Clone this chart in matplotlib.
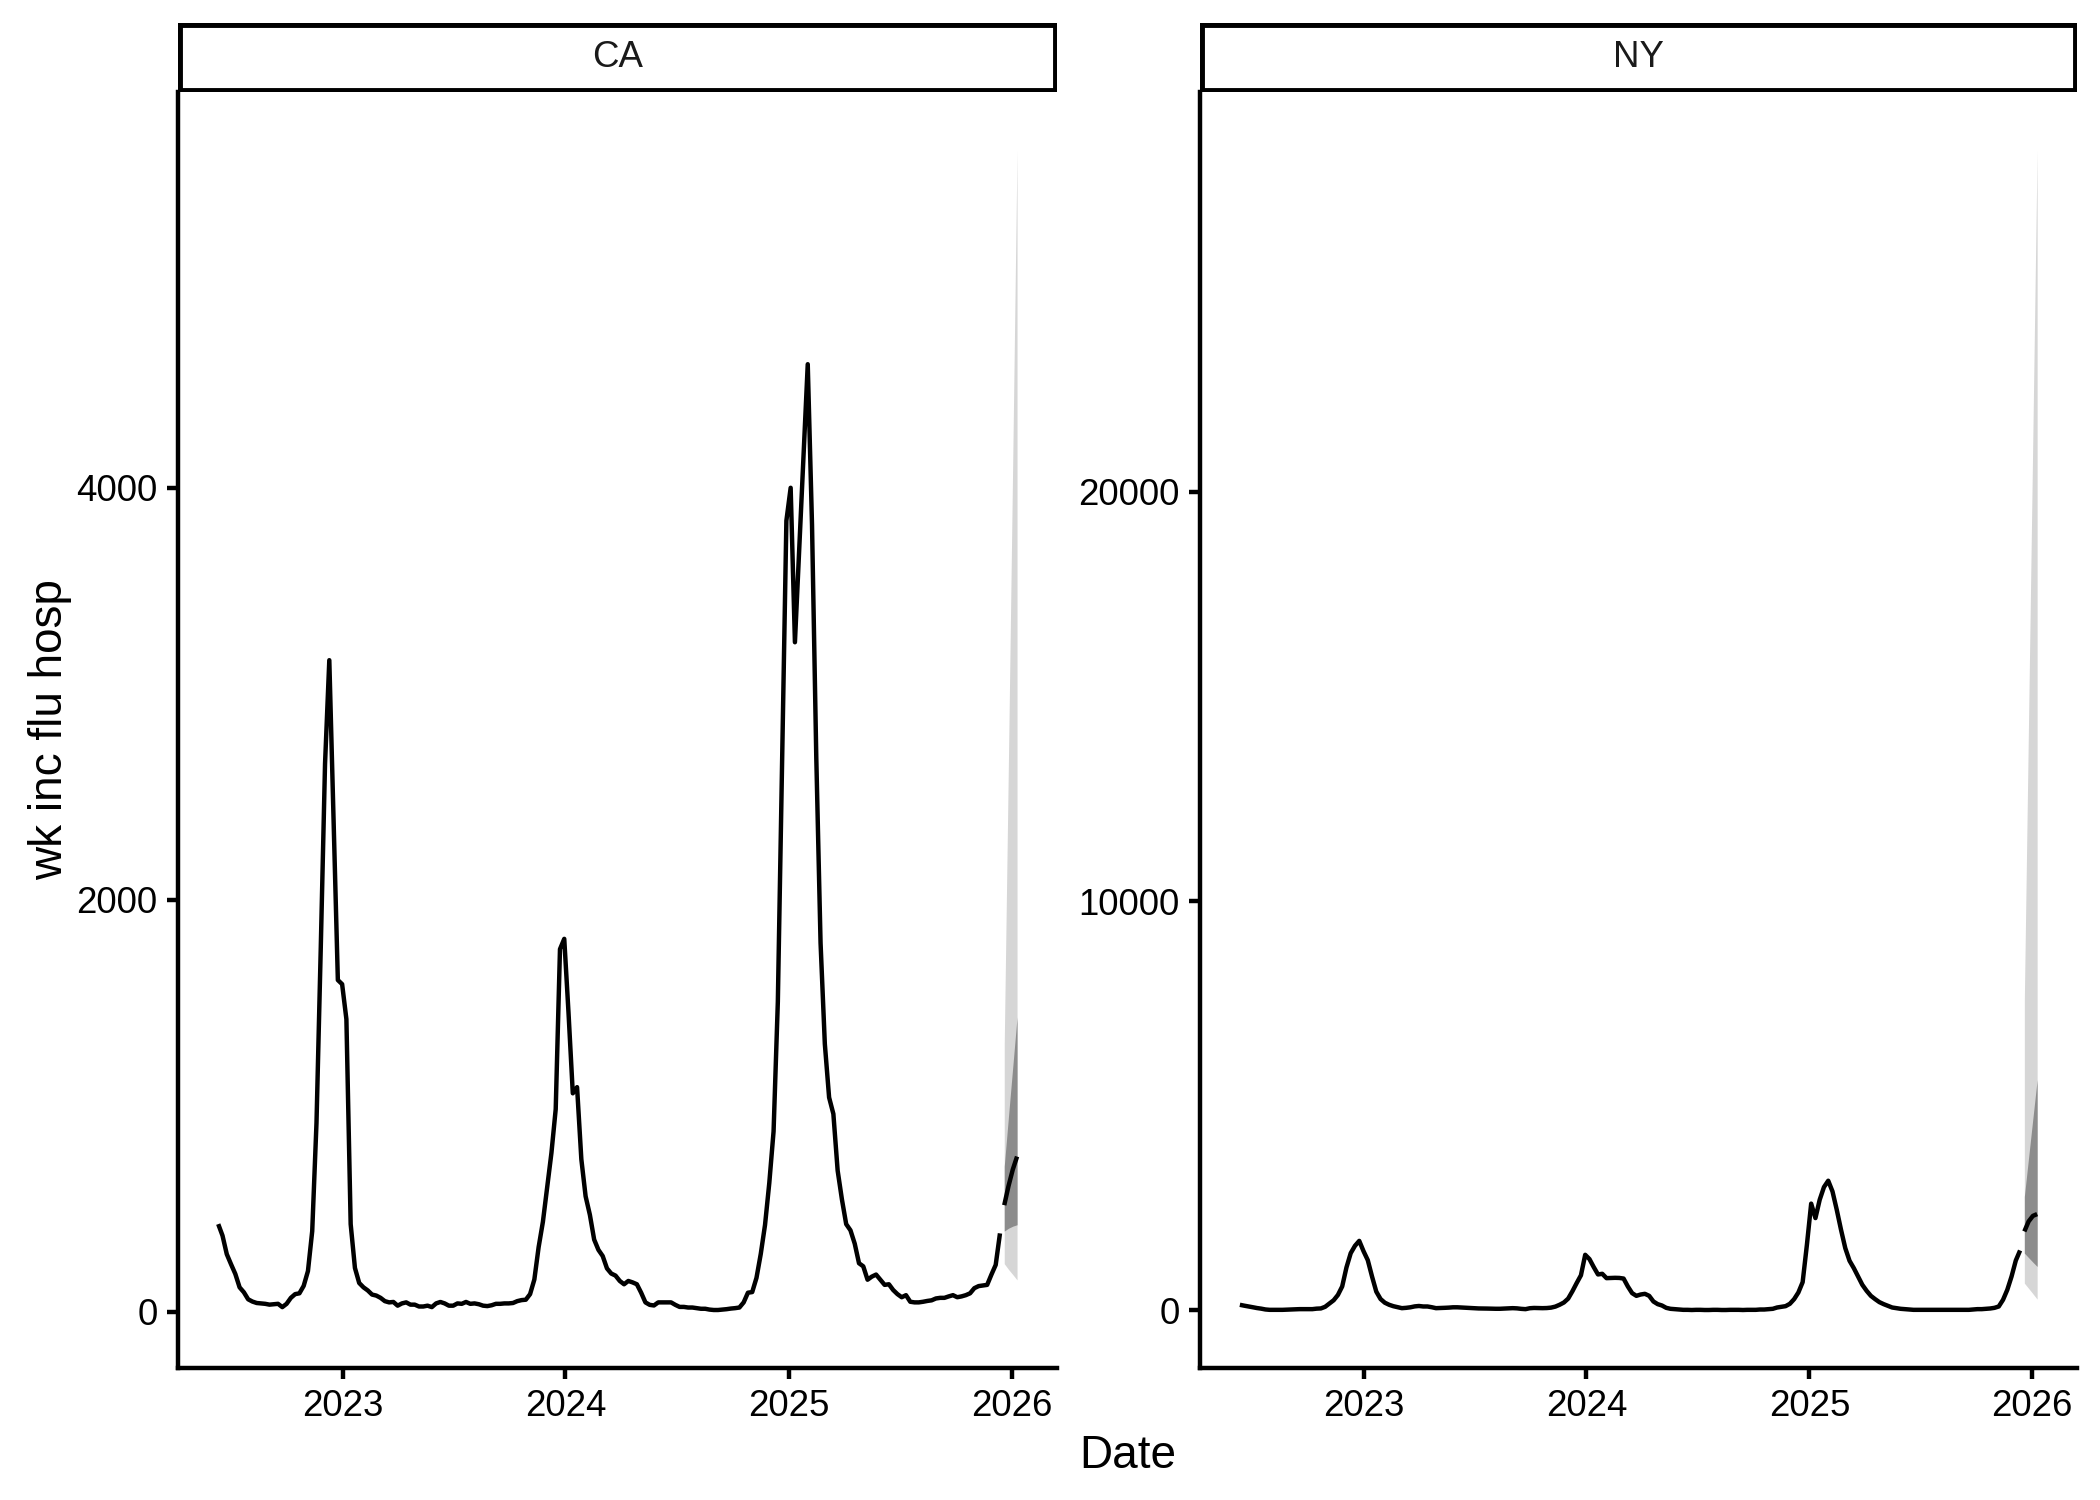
import numpy as np
import matplotlib
matplotlib.use("Agg")
import matplotlib.pyplot as plt
import matplotlib.dates as mdates
from matplotlib.patches import Rectangle

plt.rcParams['font.family'] = ['Liberation Sans', 'DejaVu Sans']

# ---------------- data ----------------
states = ["CA", "NY"]
obs_start = "2022-06-11"          # first weekly observation (weeks ending Saturday)
forecast_dates = ["2025-12-20", "2025-12-27", "2026-01-03", "2026-01-10"]

ca_obs = [
    425, 369, 279, 230, 183, 118, 94, 60, 49, 42,
    40, 38, 34, 36, 38, 22, 38, 67, 85, 89,
    125, 197, 391, 916, 1766, 2660, 3163, 2390, 1610, 1590,
    1420, 425, 212, 139, 118, 103, 83, 78, 67, 51,
    45, 47, 29, 40, 45, 34, 34, 25, 25, 29,
    22, 40, 47, 40, 29, 29, 40, 38, 47, 38,
    40, 36, 29, 27, 31, 38, 38, 40, 40, 42,
    51, 56, 58, 85, 156, 313, 436, 603, 771, 983,
    1760, 1810, 1450, 1060, 1090, 740, 560, 470, 350, 300,
    270, 210, 185, 175, 149, 133, 149, 142, 133, 92,
    45, 33, 30, 45, 45, 45, 45, 33, 23, 23,
    20, 20, 17, 14, 14, 10, 8, 8, 10, 12,
    15, 17, 20, 45, 92, 95, 164, 280, 421, 625,
    875, 1505, 2670, 3840, 4000, 3250, 3700, 4150, 4600, 3820,
    2690, 1790, 1300, 1040, 960, 685, 545, 425, 395, 330,
    235, 220, 155, 170, 180, 155, 130, 133, 105, 85,
    70, 80, 48, 45, 45, 48, 52, 55, 64, 67,
    67, 74, 80, 70, 74, 80, 89, 114, 124, 127,
    130, 180, 227, 380,
]

ny_obs = [
    139, 118, 100, 80, 60, 45, 25, 16, 16, 16,
    16, 20, 25, 30, 33, 33, 33, 33, 45, 50,
    90, 170, 250, 380, 587, 1050, 1400, 1580, 1700, 1450,
    1230, 830, 460, 280, 190, 140, 105, 80, 57, 65,
    78, 100, 110, 98, 98, 80, 57, 60, 65, 70,
    78, 78, 72, 65, 60, 55, 50, 49, 47, 44,
    42, 42, 46, 52, 57, 52, 40, 33, 55, 62,
    60, 57, 60, 70, 95, 140, 195, 290, 470, 670,
    860, 1360, 1255, 1060, 880, 896, 790, 795, 798, 795,
    780, 587, 424, 358, 390, 407, 358, 220, 155, 122,
    65, 41, 33, 24, 16, 16, 12, 16, 16, 12,
    12, 16, 16, 12, 12, 16, 16, 16, 12, 16,
    16, 16, 24, 24, 33, 41, 73, 90, 106, 163,
    277, 440, 692, 1605, 2610, 2257, 2705, 3014, 3169, 2908,
    2460, 1972, 1523, 1214, 1035, 831, 627, 481, 358, 277,
    204, 155, 114, 73, 57, 41, 33, 24, 16, 16,
    16, 16, 16, 16, 16, 16, 16, 16, 16, 16,
    16, 16, 24, 33, 33, 41, 49, 65, 98, 261,
    505, 831, 1222, 1466,
]

ca_median = [517, 610, 690, 753]
ca_q25 = [391, 405, 415, 422]
ca_q75 = [706, 950, 1190, 1431]
ca_q025 = [233, 205, 180, 154]
ca_q975 = [1300, 2700, 4150, 5640]

ny_median = [1931, 2175, 2310, 2355]
ny_q25 = [1401, 1290, 1180, 1075]
ny_q75 = [2786, 3740, 4690, 5638]
ny_q025 = [668, 540, 410, 277]
ny_q975 = [7600, 14500, 21400, 28343]

ca_yticks = [0, 2000, 4000]
ny_yticks = [0, 10000, 20000]
x_label = "Date"
y_label = "wk inc flu hosp"

# ---------------- layout ----------------
W, H = 2100, 1500
fig = plt.figure(figsize=(7, 5), dpi=300)
fig.patch.set_facecolor('white')

LW = 1.42 * 72 / 96          # ggplot linewidth 0.5 mm -> points
STRIP_LW = 2 * LW            # drawn centred on the edge and clipped -> half visible
panel_top, panel_bottom, strip_top = 92, 1368, 23
panel_x = {"CA": (178.3, 1057.0), "NY": (1200.0, 2077.0)}

series = {
    "CA": dict(obs=ca_obs, med=ca_median, q25=ca_q25, q75=ca_q75,
               q025=ca_q025, q975=ca_q975, yticks=ca_yticks),
    "NY": dict(obs=ny_obs, med=ny_median, q25=ny_q25, q75=ny_q75,
               q025=ny_q025, q975=ny_q975, yticks=ny_yticks),
}

fc_dates = np.array(forecast_dates, dtype='datetime64[D]')

for st in states:
    d = series[st]
    obs_dates = np.datetime64(obs_start) + np.arange(len(d["obs"])) * np.timedelta64(7, 'D')
    l, r = panel_x[st]
    ax = fig.add_axes([l / W, 1 - panel_bottom / H, (r - l) / W, (panel_bottom - panel_top) / H])
    ax.set_facecolor('white')
    ax.fill_between(fc_dates, d["q025"], d["q975"], color='#D6D6D6', lw=0, zorder=1)
    ax.fill_between(fc_dates, d["q25"], d["q75"], color='#8C8C8C', lw=0, zorder=2)
    ax.plot(obs_dates, d["obs"], color='black', lw=LW, solid_joinstyle='round',
            solid_capstyle='butt', zorder=3)
    ax.plot(fc_dates, d["med"], color='black', lw=LW, solid_joinstyle='round',
            solid_capstyle='butt', zorder=3)
    ax.margins(x=0.05, y=0.05)

    for s in ['top', 'right']:
        ax.spines[s].set_visible(False)
    for s in ['left', 'bottom']:
        ax.spines[s].set_linewidth(LW)
        ax.spines[s].set_color('black')
        ax.spines[s].set_capstyle('projecting')

    ax.xaxis.set_major_locator(mdates.YearLocator())
    ax.xaxis.set_major_formatter(mdates.DateFormatter('%Y'))
    ax.set_yticks(d["yticks"])
    ax.set_yticklabels([str(v) for v in d["yticks"]])
    ax.tick_params(axis='both', which='major', length=2.74, width=LW, color='black',
                   labelsize=8.8, labelcolor='black', pad=2.2)
    ax.tick_params(axis='both', which='minor', length=0)

    # facet strip
    sax = fig.add_axes([l / W, 1 - panel_top / H, (r - l) / W, (panel_top - strip_top) / H])
    sax.set_xticks([])
    sax.set_yticks([])
    sax.set_facecolor('white')
    for s in sax.spines.values():
        s.set_visible(False)
    rect = Rectangle((0, 0), 1, 1, transform=sax.transAxes, facecolor='white',
                     edgecolor='black', linewidth=STRIP_LW, clip_on=True)
    sax.add_patch(rect)
    rect.set_clip_path(sax.patch)
    sax.text(0.5, 0.5, st, ha='center', va='center', fontsize=8.8, color='#1A1A1A',
             transform=sax.transAxes)

fig.text(1127.5 / W, 1 - 1468 / H, x_label, ha='center', va='baseline', fontsize=11, color='black')
fig.text(50 / W, 1 - 730 / H, y_label, ha='center', va='center', rotation=90, fontsize=11,
         color='black')

fig.savefig('out.png', dpi=300, facecolor='white')
